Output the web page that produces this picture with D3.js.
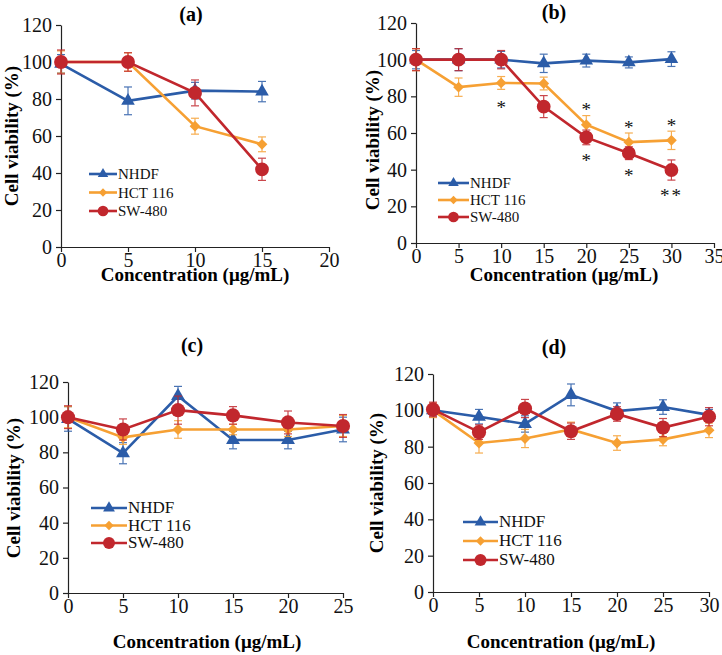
<!DOCTYPE html>
<html>
<head>
<meta charset="utf-8">
<script src="https://cdn.jsdelivr.net/npm/d3@7"></script>
<style>
  body { margin: 0; background: #fff; }
  svg { display: block; }
  svg text { font-family: "Liberation Serif", "Times New Roman", serif; }
</style>
</head>
<body>
<div id="chart"></div>
<script>
// ---- data ----
const seriesNames = ["NHDF", "HCT 116", "SW-480"];
const yTicks = [0, 20, 40, 60, 80, 100, 120];

// panel (a)
const concA = [0, 5, 10, 15];
const nhdfA = [99, 79, 84.5, 84];
const nhdfErrA = [5, 7.5, 4.5, 5.5];
const hctA = [100, 100, 65.3, 55.5];
const hctErrA = [6, 5, 4.3, 4];
const swA = [100, 100, 83.3, 42];
const swErrA = [6.5, 5, 7, 6];

// panel (b)
const concB = [0, 5, 10, 15, 20, 25, 30];
const nhdfB = [100, 100, 100, 98, 99.5, 98.5, 100.3];
const nhdfErrB = [5, 6, 4.5, 5, 3.5, 3, 4];
const hctB = [100, 85, 87.3, 87, 64.5, 55, 56];
const hctErrB = [6, 5, 3.5, 3.5, 5, 5, 5];
const swB = [100, 100, 100, 74.4, 57.6, 49, 39.8];
const swErrB = [6, 6, 5, 6, 4, 3.5, 5.5];
const starsB = [
  { x: 10, y: 76, t: "*" }, { x: 20, y: 74.5, t: "*" }, { x: 20, y: 47, t: "*" },
  { x: 25, y: 65, t: "*" }, { x: 25, y: 39, t: "*" }, { x: 30, y: 66, t: "*" },
  { x: 30, y: 28, t: "**" }
];

// panel (c)
const concC = [0, 5, 10, 15, 20, 25];
const nhdfC = [99, 79.5, 112, 87, 87, 93];
const nhdfErrC = [7, 6, 5.5, 5, 5, 7];
const hctC = [100, 88.5, 93, 93, 93, 95];
const hctErrC = [6, 4, 5, 3, 4, 6];
const swC = [100, 93, 104, 101, 97, 95];
const swErrC = [6.5, 6, 8, 5, 6.5, 6.5];

// panel (d)
const concD = [0, 5, 10, 15, 20, 25, 30];
const nhdfD = [100, 96.5, 92.5, 108.5, 99.6, 101.8, 97.5];
const nhdfErrD = [3, 4, 4.5, 6, 4.5, 4, 3];
const hctD = [100, 82, 84.5, 89.5, 82, 84, 89];
const hctErrD = [4, 5.5, 5, 4, 4, 3.5, 4];
const swD = [100.5, 88, 101, 88.5, 98, 90.5, 96.5];
const swErrD = [4, 4, 5, 4.5, 4, 5, 5];

const colors = ["#2b5ca8", "#f6a033", "#c1272d"];
const symbols = [d3.symbolTriangle, d3.symbolSquare, d3.symbolCircle];

const panels = [
  { title: "(a)", xMax: 20, x: concA, ys: [nhdfA, hctA, swA], errs: [nhdfErrA, hctErrA, swErrA],
    box: [61, 329, 25, 247], titlePos: [191, 21], xlab: [195, 281], ylab: [12, 136],
    legend: [89, 117, 174, 18.5], legendFont: 15, mk: 1, lmk: 0.6 },
  { title: "(b)", xMax: 35, x: concB, ys: [nhdfB, hctB, swB], errs: [nhdfErrB, hctErrB, swErrB],
    box: [416, 714, 23, 243], titlePos: [554, 19], xlab: [564, 281], ylab: [373, 140],
    legend: [438, 469, 183, 17], legendFont: 15, mk: 1, lmk: 0.6, stars: starsB },
  { title: "(c)", xMax: 25, x: concC, ys: [nhdfC, hctC, swC], errs: [nhdfErrC, hctErrC, swErrC],
    box: [68, 343, 382, 593], titlePos: [192, 352], xlab: [207, 648], ylab: [14, 488],
    legend: [91, 127, 508, 17.5], legendFont: 17, mk: 1.05, lmk: 0.75 },
  { title: "(d)", xMax: 30, x: concD, ys: [nhdfD, hctD, swD], errs: [nhdfErrD, hctErrD, swErrD],
    box: [433, 709, 374, 592], titlePos: [554, 354], xlab: [561, 648], ylab: [377, 483],
    legend: [463, 498, 522, 19], legendFont: 17, mk: 1.05, lmk: 0.75 }
];

const svg = d3.select("#chart").append("svg")
  .attr("width", 722).attr("height", 655);

function markerPath(i, scale) {
  const sizes = [80, 58, 150];
  return d3.symbol().type(symbols[i]).size(sizes[i] * scale)();
}

panels.forEach(p => {
  const [l, r, t, b] = p.box;
  const x = d3.scaleLinear().domain([0, p.xMax]).range([l, r]);
  const y = d3.scaleLinear().domain([0, 120]).range([b, t]);
  const g = svg.append("g");

  const xAxis = g.append("g").attr("transform", `translate(0,${b})`)
    .call(d3.axisBottom(x).tickValues(d3.range(0, p.xMax + 1, 5)).tickSize(5).tickSizeOuter(0).tickPadding(1));
  const yAxis = g.append("g").attr("transform", `translate(${l},0)`)
    .call(d3.axisLeft(y).tickValues(yTicks).tickSize(5).tickSizeOuter(0).tickPadding(4));
  [xAxis, yAxis].forEach(a => {
    a.attr("font-family", null);
    a.select(".domain").attr("stroke", "#222").attr("stroke-width", 1.2);
    a.selectAll(".tick line").attr("stroke", "#222").attr("stroke-width", 1.2);
    a.selectAll(".tick text").attr("font-size", 20).attr("fill", "#111");
  });

  g.append("text").attr("x", p.titlePos[0]).attr("y", p.titlePos[1])
    .attr("text-anchor", "middle").attr("font-weight", "bold").attr("font-size", 20).text(p.title);
  g.append("text").attr("x", p.xlab[0]).attr("y", p.xlab[1])
    .attr("text-anchor", "middle").attr("font-weight", "bold").attr("font-size", 19)
    .text("Concentration (μg/mL)");
  g.append("text").attr("transform", `translate(${p.ylab[0] + 6},${p.ylab[1]}) rotate(-90)`)
    .attr("text-anchor", "middle").attr("font-weight", "bold").attr("font-size", 19)
    .text("Cell viability (%)");

  const line = d3.line().x(d => x(d[0])).y(d => y(d[1]));

  p.ys.forEach((vals, si) => {
    const pts = p.x.map((c, k) => [c, vals[k], p.errs[si][k]]);
    const sg = g.append("g");
    sg.append("path").datum(pts).attr("d", line)
      .attr("fill", "none").attr("stroke", colors[si]).attr("stroke-width", 2.6);
    const eb = sg.selectAll(".err").data(pts).enter().append("g").attr("class", "err")
      .attr("stroke", colors[si]).attr("stroke-width", 1.2).attr("opacity", 0.85);
    eb.append("line").attr("x1", d => x(d[0])).attr("x2", d => x(d[0]))
      .attr("y1", d => y(d[1] - d[2])).attr("y2", d => y(d[1] + d[2]));
    eb.append("line").attr("x1", d => x(d[0]) - 4).attr("x2", d => x(d[0]) + 4)
      .attr("y1", d => y(d[1] + d[2])).attr("y2", d => y(d[1] + d[2]));
    eb.append("line").attr("x1", d => x(d[0]) - 4).attr("x2", d => x(d[0]) + 4)
      .attr("y1", d => y(d[1] - d[2])).attr("y2", d => y(d[1] - d[2]));
    sg.selectAll(".mk").data(pts).enter().append("path").attr("class", "mk")
      .attr("d", markerPath(si, p.mk))
      .attr("transform", d => `translate(${x(d[0])},${y(d[1])})` + (si === 1 ? " rotate(45)" : ""))
      .attr("fill", colors[si]);
  });

  if (p.stars) {
    g.selectAll(".star").data(p.stars).enter().append("text")
      .attr("x", d => x(d.x)).attr("y", d => y(d.y) + 10)
      .attr("text-anchor", "middle").attr("font-size", 19).attr("fill", "#111")
      .attr("letter-spacing", d => d.t.length > 1 ? 2 : 0)
      .text(d => d.t);
  }

  // legend
  const [lx0, lx1, ly0, lstep] = p.legend;
  seriesNames.forEach((name, si) => {
    const ly = ly0 + si * lstep;
    const lg = g.append("g");
    lg.append("line").attr("x1", lx0).attr("x2", lx1).attr("y1", ly).attr("y2", ly)
      .attr("stroke", colors[si]).attr("stroke-width", 2.6);
    lg.append("path").attr("d", markerPath(si, p.lmk))
      .attr("transform", `translate(${(lx0 + lx1) / 2},${ly})` + (si === 1 ? " rotate(45)" : ""))
      .attr("fill", colors[si]);
    lg.append("text").attr("x", lx1 + 1).attr("y", ly + 5).attr("font-size", p.legendFont)
      .attr("fill", "#111").text(name);
  });
});
</script>
</body>
</html>
